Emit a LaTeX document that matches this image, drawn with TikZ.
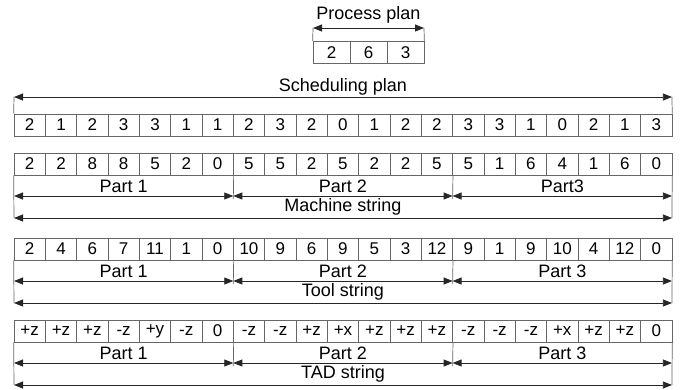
\documentclass[tikz,border=0pt]{standalone}
\usepackage{fontspec}
\setmainfont{Liberation Sans}
\usetikzlibrary{arrows.meta}
\newcommand\cw{31.33}
\newcommand\strrow[6]{%
  \foreach \v [count=\i] in {#3} {\node[cell] (#1\i) at ({14+(\i-0.5)*\cw},{#2+11}) {\v};}
  \coordinate (#1p0) at (14,{#2+22+21});
  \coordinate (#1p1) at ({14+7*\cw},{#2+22+21});
  \coordinate (#1p2) at ({14+14*\cw},{#2+22+21});
  \coordinate (#1p3) at ({14+21*\cw},{#2+22+21});
  \coordinate (#1q0) at (14,{#2+22+43});
  \coordinate (#1q3) at ({14+21*\cw},{#2+22+43});
  \coordinate (#1v1) at ({14+7*\cw},{#2+22+24});
  \coordinate (#1v2) at ({14+14*\cw},{#2+22+24});
  \draw[edge] (#11.south west) -- (#1q0);
  \draw[edge] (#121.south east) -- (#1q3);
  \draw[edge] (#17.south east) -- (#1v1);
  \draw[edge] (#114.south east) -- (#1v2);
  \draw[dim] (#1p0) -- (#1p1);
  \draw[dim] (#1p1) -- (#1p2);
  \draw[dim] (#1p2) -- (#1p3);
  \draw[dim] (#1q0) -- (#1q3);
  \node[lbl] (#1t1) at ({14+3.5*\cw},{#2+22+11}) {Part 1};
  \node[lbl] (#1t2) at ({14+10.5*\cw},{#2+22+11}) {Part 2};
  \node[lbl] (#1t3) at ({14+17.5*\cw},{#2+22+11}) {#5};
  \node[lbl] (#1n) at ({14+10.5*\cw},{#2+22+32}) {#6};
}
\begin{document}
\begin{tikzpicture}[x=1pt,y=-1pt,
  cell/.style={draw=gray!80!black, line width=0.7pt, minimum width=\cw pt, minimum height=22pt, inner sep=0pt, font=\fontsize{17}{17}\selectfont},
  pcell/.style={cell, minimum width=37pt},
  dim/.style={{Triangle[length=9pt,width=7pt]}-{Triangle[length=9pt,width=7pt]}, line width=0.8pt, black!85},
  edge/.style={draw=gray!80!black, line width=0.7pt},
  lbl/.style={font=\fontsize{18}{18}\selectfont, inner sep=0pt}]
\useasboundingbox (0,0) rectangle (689,389);
% Process plan
\foreach \v [count=\i] in {2,6,3} {\node[pcell] (pp\i) at ({313+(\i-0.5)*37},52.5) {\v};}
\coordinate (ppa) at (313,28);
\coordinate (ppb) at (424,28);
\draw[edge] (ppa) -- (pp1.north west);
\draw[edge] (ppb) -- (pp3.north east);
\draw[dim] (ppa) -- (ppb);
\node[lbl] (ppt) at (368.5,15) {Process plan};
% Scheduling plan
\foreach \v [count=\i] in {2,1,2,3,3,1,1,2,3,2,0,1,2,2,3,3,1,0,2,1,3} {\node[cell] (s\i) at ({14+(\i-0.5)*\cw},125) {\v};}
\coordinate (sa) at (14,97);
\coordinate (sb) at ({14+21*\cw},97);
\draw[edge] (sa) -- (s1.north west);
\draw[edge] (sb) -- (s21.north east);
\draw[dim] (sa) -- (sb);
\node[lbl] (st) at ({14+10.5*\cw},87) {Scheduling plan};
% String rows
\strrow{m}{153}{2,2,8,8,5,2,0,5,5,2,5,2,2,5,5,1,6,4,1,6,0}{}{Part3}{Machine string}
\strrow{t}{238}{2,4,6,7,11,1,0,10,9,6,9,5,3,12,9,1,9,10,4,12,0}{}{Part 3}{Tool string}
\strrow{d}{320}{+z,+z,+z,-z,+y,-z,0,-z,-z,+z,+x,+z,+z,+z,-z,-z,-z,+x,+z,+z,0}{}{Part 3}{TAD string}
\end{tikzpicture}
\end{document}
